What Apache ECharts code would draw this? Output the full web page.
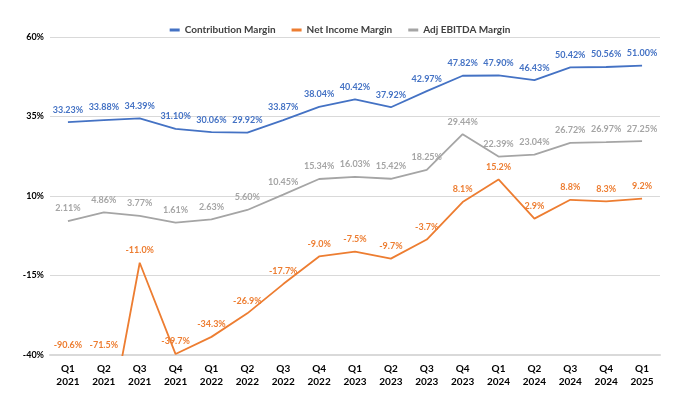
<!DOCTYPE html>
<html>
<head>
<meta charset="utf-8">
<script src="https://cdn.jsdelivr.net/npm/echarts@6/dist/echarts.min.js"></script>
<style>
  html, body { margin: 0; padding: 0; background: #fff; }
  #show { width: 680px; height: 411px; }
</style>
</head>
<body>
<div id="show"></div>
<script>
var myChart = echarts.init(document.getElementById("show"));

// quarters on the x axis
var quarters = ["Q1\n2021", "Q2\n2021", "Q3\n2021", "Q4\n2021", "Q1\n2022", "Q2\n2022", "Q3\n2022", "Q4\n2022",
                "Q1\n2023", "Q2\n2023", "Q3\n2023", "Q4\n2023", "Q1\n2024", "Q2\n2024", "Q3\n2024", "Q4\n2024", "Q1\n2025"];

var contributionMargin = [33.23, 33.88, 34.39, 31.10, 30.06, 29.92, 33.87, 38.04, 40.42, 37.92, 42.97, 47.82, 47.90, 46.43, 50.42, 50.56, 51.00];
var netIncomeMargin = [-90.6, -71.5, -11.0, -39.7, -34.3, -26.9, -17.7, -9.0, -7.5, -9.7, -3.7, 8.1, 15.2, 2.9, 8.8, 8.3, 9.2];
var adjEbitdaMargin = [2.11, 4.86, 3.77, 1.61, 2.63, 5.60, 10.45, 15.34, 16.03, 15.42, 18.25, 29.44, 22.39, 23.04, 26.72, 26.97, 27.25];

var yMin = -40, yMax = 60, yStep = 25;

var blue = '#4472C4', orange = '#ED7D31', grey = '#A5A5A5';
var font = 'Lato';

function lbl(color, decimals) {
    return {
        show: true,
        position: 'top',
        distance: 8,
        color: color,
        fontFamily: font,
        fontSize: 9,
        fontWeight: 'bold',
        formatter: function (p) { return Number(p.value).toFixed(decimals) + '%'; }
    };
}

// net income points below the axis minimum: keep the line, hide their label here
var netItems = netIncomeMargin.map(function (v) {
    return v < yMin ? { value: v, label: { show: false } } : v;
});
// labels for those points sit on the axis floor, like the spreadsheet chart
var netFloor = netIncomeMargin.map(function (v) { return Math.max(v, yMin); });

myChart.setOption({
    animation: false,
    legend: {
        top: 20,
        left: 'center',
        itemWidth: 10,
        itemHeight: 3,
        itemGap: 16,
        icon: 'rect',
        textStyle: { fontFamily: font, fontSize: 10, fontWeight: 'bold', color: '#404040' },
        data: ['Contribution Margin', 'Net Income Margin', 'Adj EBITDA Margin']
    },
    grid: { left: 50, right: 20, top: 37, bottom: 56, containLabel: false },
    xAxis: {
        type: 'category',
        data: quarters,
        boundaryGap: true,
        axisLine: { show: true, onZero: false, lineStyle: { color: '#D9D9D9', width: 2 } },
        axisTick: { show: false },
        axisLabel: {
            color: '#000', fontFamily: font, fontSize: 10, fontWeight: 'bold',
            lineHeight: 13, margin: 7, interval: 0
        }
    },
    yAxis: {
        type: 'value',
        min: yMin,
        max: yMax,
        interval: yStep,
        axisLine: { show: false },
        axisTick: { show: false },
        splitLine: { lineStyle: { color: '#D9D9D9', width: 1 } },
        axisLabel: {
            color: '#000', fontFamily: font, fontSize: 9, fontWeight: 'bold', margin: 6,
            formatter: '{value}%'
        }
    },
    series: [
        {
            name: 'Contribution Margin',
            type: 'line',
            data: contributionMargin,
            symbol: 'circle', symbolSize: 0, showSymbol: true,
            lineStyle: { color: blue, width: 1.8 },
            itemStyle: { color: blue },
            label: lbl(blue, 2)
        },
        {
            name: 'Net Income Margin',
            type: 'line',
            data: netItems,
            clip: true,
            symbol: 'circle', symbolSize: 0, showSymbol: true,
            lineStyle: { color: orange, width: 1.8 },
            itemStyle: { color: orange },
            label: lbl(orange, 1)
        },
        {
            name: 'Adj EBITDA Margin',
            type: 'line',
            data: adjEbitdaMargin,
            symbol: 'circle', symbolSize: 0, showSymbol: true,
            lineStyle: { color: grey, width: 1.8 },
            itemStyle: { color: grey },
            label: lbl(grey, 2)
        },
        {
            name: 'netFloorLabels',
            type: 'line',
            data: netFloor.map(function (v, i) {
                return { value: v, label: { show: netIncomeMargin[i] < yMin } };
            }),
            symbol: 'circle', symbolSize: 0, showSymbol: true,
            lineStyle: { opacity: 0 },
            itemStyle: { color: orange },
            silent: true,
            label: {
                position: 'top', distance: 5, color: orange, fontFamily: font,
                fontSize: 9, fontWeight: 'bold',
                formatter: function (p) { return netIncomeMargin[p.dataIndex].toFixed(1) + '%'; }
            }
        }
    ]
});
</script>
</body>
</html>
